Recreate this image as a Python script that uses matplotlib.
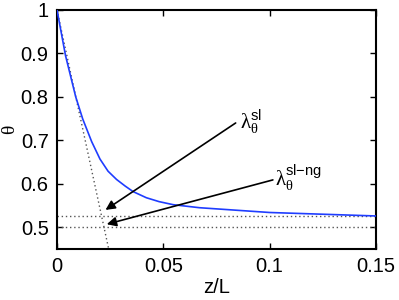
import matplotlib
matplotlib.use("Agg")
import matplotlib.pyplot as plt

plt.rcParams['font.family'] = ['Liberation Sans', 'DejaVu Sans']
plt.rcParams['mathtext.fontset'] = 'custom'
plt.rcParams['mathtext.rm'] = 'Liberation Serif'
plt.rcParams['mathtext.it'] = 'Liberation Serif:italic'
plt.rcParams['mathtext.sf'] = 'Liberation Sans'

# Data
z = [0, 0.004, 0.0088, 0.0121, 0.0163, 0.0202, 0.024, 0.028, 0.032, 0.0358,
     0.042, 0.048, 0.0546, 0.067, 0.085, 0.1, 0.125, 0.15]
theta = [1.0, 0.895, 0.80, 0.749, 0.697, 0.657, 0.629, 0.610, 0.595, 0.582,
         0.568, 0.559, 0.552, 0.545, 0.539, 0.534, 0.530, 0.526]

tangent_z = [0.0, 0.0243]
tangent_theta = [1.0, 0.45]

level_sl = 0.527
level_slng = 0.5

x_ticks = [0, 0.05, 0.1, 0.15]
x_labels = ['0', '0.05', '0.1', '0.15']
y_ticks = [0.5, 0.6, 0.7, 0.8, 0.9, 1.0]
y_labels = ['0.5', '0.6', '0.7', '0.8', '0.9', '1']

fig = plt.figure(figsize=(3.99, 3.0), dpi=100)
ax = fig.add_axes([0.1429, 0.17, 0.7995, 0.7967])

ax.plot(z, theta, color='#1f3dff', lw=1.2, zorder=3)
ax.plot(tangent_z, tangent_theta, color='#555555', ls=(0, (1, 2)), lw=1.0, zorder=2)
ax.plot([0, 0.15], [level_sl, level_sl], color='#555555', ls=(0, (1, 2)), lw=1.0, zorder=2)
ax.plot([0, 0.15], [level_slng, level_slng], color='#555555', ls=(0, (1, 2)), lw=1.0, zorder=2)

ax.set_xlim(0, 0.15)
ax.set_ylim(0.45, 1.0)
ax.set_xticks(x_ticks)
ax.set_xticklabels(x_labels)
ax.set_yticks(y_ticks)
ax.set_yticklabels(y_labels)
ax.tick_params(direction='in', length=4, width=1, top=True, right=True,
               labelsize=14.5, pad=6)
for s in ax.spines.values():
    s.set_linewidth(1.5)

ax.set_xlabel('z/L', fontsize=14.5, labelpad=1)
ax.set_ylabel('θ', fontsize=14, family=['Liberation Serif'], labelpad=2)

ap = dict(arrowstyle='-|>', mutation_scale=14, lw=1.2, color='k', shrinkA=0, shrinkB=0)
ax.annotate('', xy=(0.0228, 0.540), xytext=(0.084, 0.740), arrowprops=ap)
ax.annotate('', xy=(0.0234, 0.507), xytext=(0.1015, 0.609), arrowprops=ap)

ax.text(0.086, 0.742, r'$\mathrm{\lambda}_{\mathrm{\theta}}^{\mathsf{sl}}$', fontsize=15,
        ha='left', va='center')
ax.text(0.1025, 0.612, r'$\mathrm{\lambda}_{\mathrm{\theta}}^{\mathsf{sl{-}ng}}$', fontsize=15,
        ha='left', va='center')

fig.savefig('out.png', dpi=100)
